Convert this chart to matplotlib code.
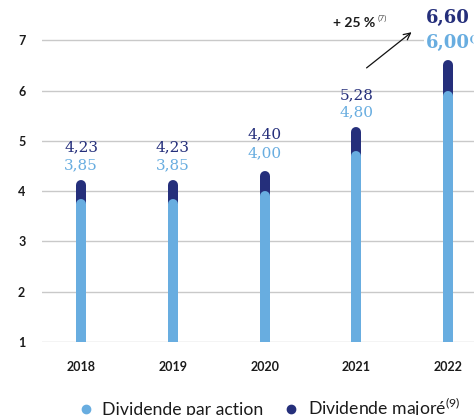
import matplotlib.pyplot as plt
from matplotlib.lines import Line2D

LIGHT_BLUE = "#68ade0"
NAVY = "#252f7b"
GRID = "#c9c9c9"
INK = "#1b1b1b"

years = ["2018", "2019", "2020", "2021", "2022"]
dividend = [3.85, 3.85, 4.00, 4.80, 6.00]
dividend_increased = [4.23, 4.23, 4.40, 5.28, 6.60]
dividend_labels = ["3,85", "3,85", "4,00", "4,80", "6,00⁽⁸⁾"]
increased_labels = ["4,23", "4,23", "4,40", "5,28", "6,60"]
y_ticks = [1, 2, 3, 4, 5, 6, 7]

# label offsets above the bar top, in pixels (dark, light)
dark_offsets = [32, 32, 37, 31, 42]
light_offsets = [14, 14, 18, 14, 17]

plt.rcParams["mathtext.fontset"] = "custom"
plt.rcParams["mathtext.rm"] = "Lato"

fig = plt.figure(figsize=(4.74, 4.15), dpi=100)
ax = fig.add_axes([42 / 474, 73 / 415, 432 / 474, 342 / 415])
ax.set_xlim(-0.425, 4.28)
ax.set_ylim(1, 7.8)

# bar width 10 px -> radius of the rounded cap in data units
px_per_unit = 342 / 6.8
cap = 5 / px_per_unit
lw = 10 * 72 / 100

for i, (low, high) in enumerate(zip(dividend, dividend_increased)):
    ax.plot([i, i], [low - cap, high - cap], color=NAVY, lw=lw,
            solid_capstyle="round", zorder=3)
    ax.plot([i, i], [0.8, low - cap], color=LIGHT_BLUE, lw=lw,
            solid_capstyle="round", zorder=4)

for i in range(len(years)):
    last = i == len(years) - 1
    size = 13 if last else 11
    weight = "bold" if last else "normal"
    ax.annotate(increased_labels[i], (i, dividend_increased[i]),
                xytext=(0, dark_offsets[i]), textcoords="offset pixels",
                ha="center", va="center", color=NAVY, fontsize=size,
                fontweight=weight, family="DejaVu Serif", zorder=6,
                annotation_clip=False)
    ax.annotate(dividend_labels[i], (i, dividend_increased[i]),
                xytext=(-22 if last else 0, light_offsets[i]),
                textcoords="offset pixels", ha="left" if last else "center",
                va="center", color=LIGHT_BLUE, fontsize=size, fontweight=weight,
                family="DejaVu Serif", zorder=6, annotation_clip=False,
                bbox=dict(boxstyle="square,pad=0.1", fc="white", ec="none") if last else None)

ax.annotate("", xy=(3.6, 7.16), xytext=(3.11, 6.45),
            arrowprops=dict(arrowstyle="->", color="#111111", lw=0.9,
                            mutation_scale=12, shrinkA=0, shrinkB=0))
ax.text(3.2, 7.35, "+ 25 %", ha="right", va="center", fontsize=10,
        fontweight="bold", family="Lato", color=INK)
ax.text(3.225, 7.44, "(7)", ha="left", va="center", fontsize=6,
        family="Lato", color="#555555")

ax.set_xticks(range(len(years)))
ax.set_xticklabels(years, family="Lato", fontsize=9, fontweight="bold", color=INK)
ax.set_yticks(y_ticks)
ax.set_yticklabels([str(t) for t in y_ticks], family="Lato", fontsize=9,
                   fontweight="bold", color=INK)
ax.tick_params(length=0)
ax.tick_params(axis="x", pad=14)
ax.tick_params(axis="y", pad=12)
ax.yaxis.grid(True, color=GRID, lw=1)
ax.set_axisbelow(True)
for side in ax.spines.values():
    side.set_visible(False)

handles = [
    Line2D([], [], marker="o", ls="", color=LIGHT_BLUE, markersize=6),
    Line2D([], [], marker="o", ls="", color=NAVY, markersize=6),
]
fig.legend(handles, ["Dividende par action", "Dividende majoré$^{(9)}$"],
           loc="center", bbox_to_anchor=(0.568, 7 / 415), ncol=2,
           frameon=False, prop={"family": "Lato", "size": 12.7},
           handlelength=0.8, handletextpad=0.55, columnspacing=1.15,
           labelcolor=INK)

fig.savefig("out.png", dpi=100)
